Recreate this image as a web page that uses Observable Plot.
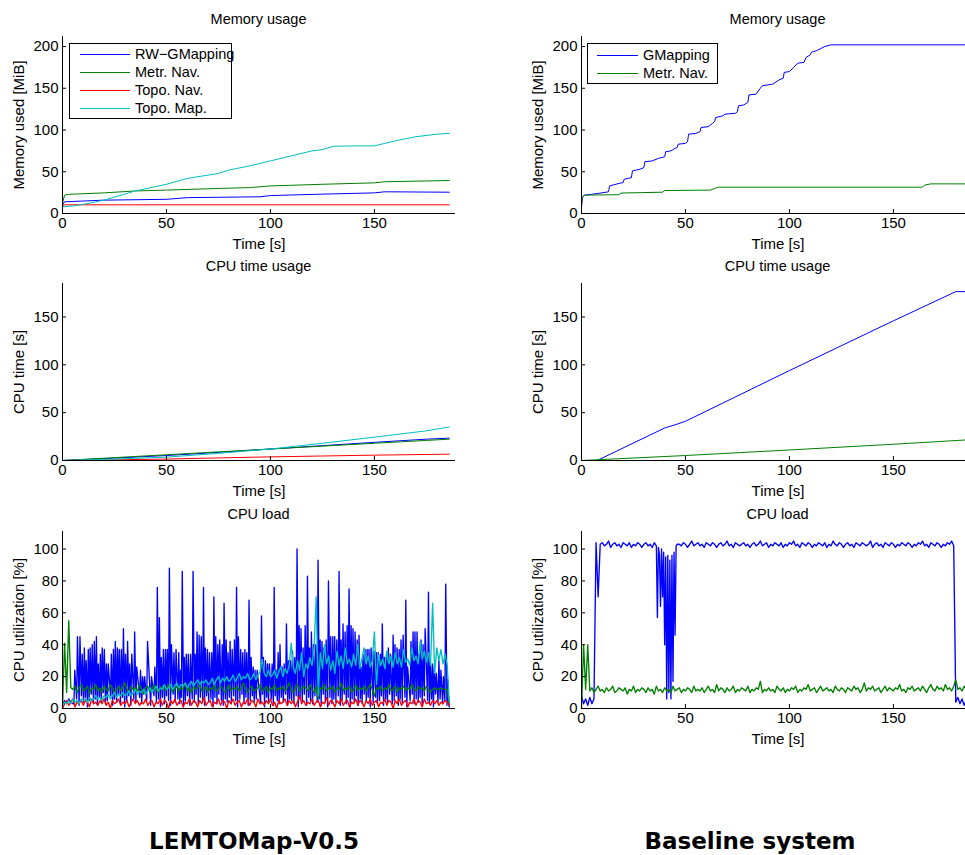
<!DOCTYPE html>
<html><head><meta charset="utf-8">
<script src="https://cdn.jsdelivr.net/npm/d3@7"></script>
<script src="https://cdn.jsdelivr.net/npm/@observablehq/plot@0.6"></script>
<style>
html,body{margin:0;padding:0;background:#fff;}
body{width:965px;height:855px;overflow:hidden;position:relative;font-family:"Liberation Sans",Arial,Helvetica,sans-serif;color:#000;}
.title{position:absolute;font-size:14.5px;line-height:16px;white-space:nowrap;transform:translateX(-50%);}
.caption{position:absolute;font-family:"DejaVu Sans",sans-serif;font-weight:bold;font-size:23px;line-height:26px;white-space:nowrap;transform:translateX(-50%);}
.legend{position:absolute;box-sizing:border-box;border:1px solid #000;background:#fff;overflow:visible;}
.legend .row{position:absolute;height:18px;white-space:nowrap;font-size:14.5px;line-height:18px;}
.legend svg{position:absolute;left:0;top:0;overflow:visible;}
</style></head>
<body>
<script>
// ---------------- shared axes ----------------
const xDomain = [0, 189];
const xTicks = [0, 50, 100, 150];
const memTicks = [0, 50, 100, 150, 200];
const cpuTimeTicks = [0, 50, 100, 150];
const loadTicks = [0, 20, 40, 60, 80, 100];
const memDomain = [0, 212];
const cpuTimeDomain = [0, 185];
const loadDomain = [0, 111];

const panelTitles = ["Memory usage", "CPU time usage", "CPU load"];
const yLabels = ["Memory used [MiB]", "CPU time [s]", "CPU utilization [%]"];
const xLabel = "Time [s]";
const columnCaptions = ["LEMTOMap-V0.5", "Baseline system"];

const leftNames = ["RW\u2212GMapping", "Metr. Nav.", "Topo. Nav.", "Topo. Map."];
const leftColors = ["#0000ff", "#008000", "#ff0000", "#00bfbf"];
const rightNames = ["GMapping", "Metr. Nav."];
const rightColors = ["#0000ff", "#008000"];

// ---------------- memory, LEMTOMap ----------------
const memTimeRW = [0, 1, 20, 50, 60, 95, 100, 122, 150, 155, 186];
const memRW = [10, 14, 16, 17, 19, 20, 21.5, 23, 24.7, 26, 25.5];
const memTimeMetr = [0, 1, 3, 20, 35, 50, 75, 90, 100, 125, 150, 155, 186];
const memMetr = [12, 22, 23, 24.7, 27, 28, 30, 31, 33, 35, 36.7, 38, 39.5];
const memTimeTopoNav = [0, 1, 186];
const memTopoNav = [9, 10.4, 10.4];
const memTimeTopoMap = [0, 5, 10, 20, 35, 50, 60, 75, 80, 90, 100, 110, 120, 125, 130, 140, 150, 155, 160, 170, 180, 186];
const memTopoMap = [8, 9, 11, 16, 27, 35, 42, 48, 52, 57, 63, 69, 75, 76.5, 80.5, 81, 81, 84, 87, 92, 95, 96];

// ---------------- memory, baseline ----------------
const memTimeGMap = [0, 0.5, 1.5, 8, 13, 13.5, 18, 20, 20.5, 24, 24.5, 28, 30, 30.5, 34, 37, 40, 40.5, 43, 45, 46, 46.5, 50, 51, 51.5, 55, 57, 57.5, 61, 63, 64, 64.5, 68, 69, 74, 75, 75.5, 78, 80, 80.5, 84, 86, 87, 92, 95, 97, 97.5, 100, 102, 104, 107, 108, 110, 110.5, 113, 117, 120, 189];
const memGMap = [8, 20, 22, 24, 26, 33, 36, 37, 41, 43, 51, 53, 55, 62, 63, 66, 68, 74, 75, 78, 79, 83, 84, 86, 95, 96, 98, 103, 104, 108, 110, 115, 117, 119, 120, 122, 129, 130, 133, 142, 143, 150, 153, 155, 160, 162, 169, 170, 175, 180, 181, 187, 190, 193, 195, 200, 202, 202];
const memTimeMetrB = [0, 0.5, 1.5, 18, 19, 39, 40, 62, 64, 66, 164, 165, 168, 189];
const memMetrB = [12, 20, 22, 22.5, 24.5, 25.5, 27.5, 28, 30, 31.5, 31.5, 34, 35.5, 35.5];

// ---------------- CPU time ----------------
const cpuTimeT = [0, 25, 50, 75, 100, 125, 150, 175, 186];
const cpuRW = [0, 2.5, 5.2, 8.5, 12, 15.5, 19, 22.3, 23.4];
const cpuMetr = [0, 3, 6, 9, 12, 15, 18, 21, 22.3];
const cpuTopoNav = [0, 0.7, 1.5, 2.7, 3.8, 4.7, 5.6, 6.3, 6.6];
const cpuTopoMap = [0, 1.5, 3.5, 7.5, 12, 18, 24.4, 31, 35];
const cpuTimeGMapT = [0, 7.5, 40, 45, 50, 100, 150, 180, 189];
const cpuGMap = [0, 0, 34, 37.3, 41, 94, 146, 176.5, 176.5];
const cpuTimeMetrBT = [0, 50, 100, 150, 189];
const cpuMetrB = [0, 5.2, 11, 17, 22];

// ---------------- CPU load, LEMTOMap (1 s samples unless timed) ----------------
const rwStartTime = [0, 1, 2, 3, 4, 5];
const rwStartLoad = [2, 5, 3, 6, 4, 3];
const rwSpikeTime = [
5.9, 7.2, 8.4, 9.5, 10.5, 11.4, 12.4, 13.3, 14.3, 15.3,
16.3, 17.2, 18.2, 19.1, 20.1, 21.1, 22.0, 23.5, 24.5, 25.4,
26.4, 27.3, 28.3, 29.3, 30.3, 31.3, 32.3, 33.3, 34.7, 35.7,
37.5, 38.5, 39.5, 40.9, 42.8, 44.4, 45.6, 46.6, 47.5, 48.5,
49.5, 50.4, 51.4, 52.4, 53.6, 54.6, 55.9, 56.8, 57.6, 58.6,
59.5, 60.5, 61.6, 62.8, 63.8, 64.7, 65.7, 66.7, 67.8, 68.7,
69.7, 70.7, 71.8, 72.8, 73.7, 74.7, 75.6, 76.8, 77.7, 78.7,
79.6, 80.6, 81.6, 82.7, 83.7, 84.6, 85.7, 86.7, 87.7, 88.6,
89.7, 90.7, 91.7, 92.6, 93.6, 95.7, 96.6, 97.6, 98.6, 99.5,
100.8, 101.8, 102.7, 103.7, 104.6, 105.6, 106.6, 107.7, 108.7, 109.6,
110.6, 111.7, 112.8, 113.8, 114.7, 115.7, 116.7, 117.8, 118.8, 119.7,
120.7, 121.8, 122.9, 123.9, 124.8, 125.8, 126.8, 127.9, 129.0, 130.0,
130.9, 131.9, 133.0, 134.0, 134.9, 135.9, 136.9, 137.8, 138.8, 139.7,
140.7, 141.7, 142.6, 143.6, 144.5, 145.5, 146.5, 147.4, 148.4, 149.8,
151.0, 151.9, 152.9, 153.8, 154.8, 155.8, 156.7, 157.7, 159.0, 159.9,
160.9, 161.9, 162.8, 163.8, 165.1, 166.0, 167.6, 168.6, 169.5, 170.5,
171.5, 172.4, 173.4, 174.4, 176.0, 176.9, 177.9, 178.8, 179.8, 181.0,
182.0, 183.2, 184.3, 185.3];
const rwSpikePeak = [
24, 45, 45, 34, 38, 30, 37, 38, 40, 42,
45, 28, 34, 38, 37, 28, 28, 34, 37, 42,
38, 37, 37, 50, 34, 42, 28, 34, 48, 26,
24, 20, 20, 42, 20, 26, 76, 57, 32, 37,
37, 37, 88, 40, 35, 37, 35, 24, 86, 32,
34, 34, 34, 86, 34, 48, 46, 45, 76, 38,
37, 35, 35, 70, 45, 40, 43, 40, 66, 43,
35, 42, 37, 43, 76, 45, 37, 35, 37, 35,
68, 32, 26, 24, 24, 58, 32, 30, 28, 28,
28, 76, 24, 35, 40, 26, 28, 53, 30, 30,
36, 32, 100, 52, 50, 38, 52, 83, 38, 48,
40, 40, 93, 43, 42, 38, 43, 80, 45, 45,
45, 43, 86, 43, 53, 48, 52, 75, 52, 50,
48, 43, 46, 26, 34, 37, 37, 37, 38, 36,
35, 35, 34, 53, 32, 34, 38, 34, 46, 40,
38, 37, 43, 46, 68, 26, 42, 48, 48, 48,
34, 43, 40, 50, 73, 30, 28, 26, 22, 30,
24, 20, 78, 18];
const rwSpikeLow = [
3, 6, 2, 8, 4, 7, 1, 5, 9, 3,
6, 2, 7, 4, 10, 3, 5, 8, 2, 6,
4, 9, 3, 7, 1, 5, 8, 2, 6, 4,
7, 3, 9, 5, 2, 8, 4, 6, 1, 7,
3, 8, 5, 2, 9, 4, 6, 3, 7, 1,
5, 8, 2, 6, 4, 9, 3, 7, 5, 2,
8, 4, 6, 1, 7, 3, 9, 5, 2, 6,
4, 7, 3, 8, 5, 1, 6, 9, 3, 7,
2, 5, 8, 4, 6, 3, 9, 1, 7, 4,
6, 2, 8, 5, 3, 7, 4, 9, 2, 6,
5, 3, 8, 1, 6, 4, 9, 2, 7, 5,
3, 8, 4, 6, 2, 9, 5, 1, 7, 3,
6, 4, 8, 2, 5, 9, 3, 7, 1, 6,
4, 8, 2, 6, 3, 9, 5, 7, 1, 4,
7, 3, 5, 8, 2, 6, 4, 9, 3, 5,
8, 2, 6, 4, 7, 1, 5, 9, 3, 6,
4, 7, 2, 8, 5, 3, 6, 1, 9, 4,
6, 3, 5, 2];
const rwEndTime = [185.7, 186];
const rwEndLoad = [4, 1];

const metrLoad = [
0, 41, 10, 55, 13,
12, 14, 10, 13, 15, 11, 12, 14, 9, 13,
12, 15, 11, 13, 10, 14, 12, 11, 15, 13,
10, 12, 14, 11, 13, 16, 12, 10, 14, 12,
13, 11, 15, 12, 9, 13, 14, 11, 12, 15,
12, 10, 13, 14, 11, 12, 15, 13, 10, 12,
14, 11, 13, 12, 16, 11, 13, 10, 14, 12,
13, 15, 11, 12, 14, 10, 13, 12, 15, 11,
12, 14, 13, 10, 12, 15, 11, 13, 12, 14,
11, 13, 16, 12, 10, 13, 14, 11, 12, 13,
15, 11, 12, 14, 10, 13, 12, 15, 11, 13,
12, 14, 11, 13, 16, 12, 10, 13, 15, 11,
12, 14, 13, 11, 15, 12, 10, 14, 6, 13,
12, 15, 11, 13, 12, 14, 10, 13, 12, 16,
11, 13, 12, 14, 10, 12, 15, 11, 13, 12,
14, 11, 13, 15, 12, 8, 13, 12, 14, 11,
13, 12, 15, 11, 12, 14, 10, 13, 12, 14,
11, 13, 12, 15, 12, 11, 14, 12, 13, 11,
14, 12, 10, 12, 13, 12, 12, 13, 12, 12,
12, 3];
const topoNavLoad = [
0, 3, 5, 2, 4, 6, 1, 4, 3, 5,
2, 5, 4, 1, 6, 3, 4, 2, 5, 3,
6, 2, 4, 0, 5, 3, 4, 6, 2, 4,
3, 5, 1, 4, 6, 3, 5, 2, 4, 3,
6, 2, 4, 5, 1, 4, 3, 6, 2, 5,
4, 0, 5, 3, 6, 2, 4, 5, 1, 4,
3, 6, 2, 5, 4, 1, 5, 3, 7, 2,
4, 5, 1, 4, 3, 6, 2, 5, 4, 0,
5, 3, 6, 2, 4, 5, 1, 4, 3, 6,
2, 5, 4, 1, 6, 3, 4, 2, 5, 3,
6, 2, 4, 0, 5, 3, 4, 6, 2, 5,
3, 5, 1, 4, 8, 3, 5, 2, 4, 3,
6, 2, 4, 5, 1, 4, 3, 7, 2, 5,
4, 1, 5, 3, 6, 2, 4, 5, 1, 4,
3, 6, 2, 5, 4, 1, 5, 3, 6, 2,
4, 5, 1, 4, 3, 6, 2, 5, 4, 0,
5, 3, 6, 2, 4, 5, 1, 4, 3, 6,
2, 5, 4, 1, 6, 3, 4, 2, 5, 3,
5, 2, 4, 3, 5, 4, 2];
const topoMapLoad = [
2, 4, 3, 5, 3, 6, 4, 5, 3, 6,
5, 6, 4, 7, 5, 6, 8, 6, 7, 5,
8, 7, 9, 6, 8, 10, 7, 9, 8, 10,
8, 9, 11, 8, 10, 12, 9, 11, 10, 12,
9, 11, 13, 10, 12, 14, 11, 13, 12, 15,
12, 13, 15, 12, 14, 16, 13, 15, 14, 16,
13, 15, 17, 14, 16, 18, 15, 17, 16, 18,
15, 16, 19, 15, 18, 20, 16, 19, 17, 20,
17, 18, 21, 17, 19, 22, 18, 20, 19, 22,
18, 19, 22, 18, 21, 23, 31, 22, 20, 24,
20, 21, 24, 19, 23, 26, 20, 25, 22, 27,
41, 26, 22, 30, 24, 35, 20, 28, 25, 32,
27, 38, 70, 8, 35, 25, 40, 28, 33, 24,
30, 22, 36, 27, 33, 25, 38, 28, 31, 26,
34, 27, 40, 25, 31, 38, 28, 33, 26, 30,
48, 15, 34, 27, 31, 25, 36, 28, 33, 26,
35, 28, 32, 26, 37, 29, 31, 27, 38, 30,
33, 28, 42, 31, 36, 29, 35, 27, 66, 22,
38, 30, 37, 28, 34, 27, 4];

// ---------------- CPU load, baseline ----------------
const gmapLoadA = [
8, 3, 6, 2, 7, 3, 6, 104, 70, 103,
104, 102, 103, 105, 101, 103, 104, 102, 103, 101,
104, 103, 102, 104, 101, 103, 102, 104, 103, 101,
103, 104, 102, 103, 101, 104, 102];
const gmapDipTime = [36.5, 37, 37.5, 38, 38.5, 39, 39.5, 40, 40.5, 41, 41.5, 42, 42.5, 43, 43.5, 44, 44.5, 45, 45.5, 46];
const gmapDipLoad = [57, 101, 96, 64, 100, 70, 98, 40, 95, 6, 96, 10, 93, 6, 96, 17, 98, 46, 102, 103];
const gmapLoadBStart = 47;
const gmapLoadB = [
103, 102, 104, 103, 101, 103, 105, 102, 103, 104,
102, 103, 101, 104, 103, 102, 104, 103, 101, 103,
104, 102, 103, 105, 102, 103, 101, 104, 103, 102,
103, 104, 102, 103, 101, 103, 104, 102, 103, 105,
102, 103, 104, 101, 103, 102, 104, 103, 102, 104,
101, 103, 102, 104, 103, 105, 102, 103, 101, 104,
103, 102, 104, 103, 101, 103, 102, 104, 103, 102,
104, 101, 103, 102, 105, 103, 102, 104, 103, 101,
103, 104, 102, 103, 101, 104, 103, 102, 104, 103,
102, 103, 105, 101, 103, 104, 102, 103, 101, 104,
103, 102, 104, 103, 101, 103, 102, 104, 103, 102,
104, 103, 101, 103, 102, 104, 103, 105, 102, 103,
101, 104, 103, 102, 104, 103, 101, 103, 102, 104,
103, 105, 102,
4, 7, 3, 6, 2, 5, 8, 3, 6, 4];
const metrLoadB = [
0, 40, 12, 40, 11, 13, 10, 12, 14, 11,
12, 10, 13, 11, 12, 14, 10, 11, 13, 12,
11, 13, 9, 12, 11, 14, 10, 12, 11, 13,
12, 10, 13, 11, 12, 9, 14, 11, 12, 10,
13, 11, 12, 10, 14, 11, 12, 13, 10, 12,
11, 13, 12, 10, 14, 11, 12, 11, 13, 10,
12, 14, 11, 12, 10, 15, 11, 13, 12, 10,
13, 11, 12, 14, 10, 12, 11, 13, 12, 11,
14, 10, 12, 11, 13, 12, 17, 10, 12, 11,
13, 11, 12, 10, 14, 12, 11, 13, 10, 12,
11, 13, 12, 14, 10, 12, 11, 13, 12, 15,
11, 12, 13, 10, 12, 14, 11, 12, 13, 11,
12, 10, 14, 12, 11, 13, 12, 10, 13, 12,
11, 14, 12, 13, 10, 12, 16, 11, 13, 12,
14, 11, 12, 13, 10, 12, 14, 11, 13, 12,
11, 13, 12, 15, 11, 12, 10, 13, 12, 14,
11, 12, 13, 11, 14, 12, 10, 13, 15, 12,
11, 14, 12, 13, 11, 15, 12, 13, 11, 14,
18, 12, 13, 11, 14, 12, 13, 12, 14, 12];

// ---------------- helpers ----------------
const pts = (T, V) => T.map((t, i) => ({t, v: V[i]}));
const sampled = (V, t0) => V.map((v, i) => ({t: t0 + i, v}));

const rwLoadData = [
  ...pts(rwStartTime, rwStartLoad),
  ...rwSpikeTime.flatMap((t, i) => [{t: t - 0.4, v: rwSpikeLow[i]}, {t, v: rwSpikePeak[i]}]),
  ...pts(rwEndTime, rwEndLoad)
];
const gmapLoadData = [
  ...sampled(gmapLoadA, 0),
  ...pts(gmapDipTime, gmapDipLoad),
  ...sampled(gmapLoadB, gmapLoadBStart)
];

const FONT = '"Liberation Sans", Arial, Helvetica, sans-serif';
const AXW = 393, AXH = 177, ML = 62, MR = 20, MT = 10, MB = 50;
const colLeft = [0, 519];
const rowAxTop = [36, 283.3, 530.7];
const rowStroke = [1, 1, 1.35];

function makePanel(col, row, yDomain, yTicks, series) {
  const fig = Plot.plot({
    width: ML + AXW + MR, height: MT + AXH + MB,
    marginLeft: ML, marginRight: MR, marginTop: MT, marginBottom: MB,
    style: {fontFamily: FONT, fontSize: "15px", color: "#000", background: "transparent", overflow: "visible"},
    x: {domain: xDomain, ticks: xTicks, tickSize: 0, tickPadding: 4, label: xLabel, labelAnchor: "center", labelOffset: 35, labelArrow: "none"},
    y: {domain: yDomain, ticks: yTicks, tickSize: 0, tickPadding: 4, label: yLabels[row], labelAnchor: "center", labelOffset: 49, labelArrow: "none"},
    marks: [
      ...series.map(s => Plot.line(s.data, {x: "t", y: "v", stroke: s.color, strokeWidth: rowStroke[row]})),
      Plot.tickY(yTicks, {y: d => d, insetRight: AXW - 4, stroke: "#000"}),
      Plot.tickX(xTicks, {x: d => d, insetTop: AXH - 4, stroke: "#000"}),
      Plot.ruleX([xDomain[0]], {stroke: "#000"}),
      Plot.ruleY([yDomain[0]], {stroke: "#000"})
    ]
  });
  fig.style.position = "absolute";
  fig.style.left = colLeft[col] + "px";
  fig.style.top = (rowAxTop[row] - MT) + "px";
  document.body.appendChild(fig);

  const t = document.createElement("div");
  t.className = "title";
  t.textContent = panelTitles[row];
  t.style.left = (colLeft[col] + ML + AXW / 2) + "px";
  t.style.top = (rowAxTop[row] - 25) + "px";
  document.body.appendChild(t);
}

// LEMTOMap column
makePanel(0, 0, memDomain, memTicks, [
  {data: pts(memTimeRW, memRW), color: leftColors[0]},
  {data: pts(memTimeMetr, memMetr), color: leftColors[1]},
  {data: pts(memTimeTopoNav, memTopoNav), color: leftColors[2]},
  {data: pts(memTimeTopoMap, memTopoMap), color: leftColors[3]}
]);
makePanel(0, 1, cpuTimeDomain, cpuTimeTicks, [
  {data: pts(cpuTimeT, cpuRW), color: leftColors[0]},
  {data: pts(cpuTimeT, cpuMetr), color: leftColors[1]},
  {data: pts(cpuTimeT, cpuTopoNav), color: leftColors[2]},
  {data: pts(cpuTimeT, cpuTopoMap), color: leftColors[3]}
]);
makePanel(0, 2, loadDomain, loadTicks, [
  {data: rwLoadData, color: leftColors[0]},
  {data: sampled(metrLoad, 0), color: leftColors[1]},
  {data: sampled(topoNavLoad, 0), color: leftColors[2]},
  {data: sampled(topoMapLoad, 0), color: leftColors[3]}
]);
// Baseline column
makePanel(1, 0, memDomain, memTicks, [
  {data: pts(memTimeGMap, memGMap), color: rightColors[0]},
  {data: pts(memTimeMetrB, memMetrB), color: rightColors[1]}
]);
makePanel(1, 1, cpuTimeDomain, cpuTimeTicks, [
  {data: pts(cpuTimeGMapT, cpuGMap), color: rightColors[0]},
  {data: pts(cpuTimeMetrBT, cpuMetrB), color: rightColors[1]}
]);
makePanel(1, 2, loadDomain, loadTicks, [
  {data: gmapLoadData, color: rightColors[0]},
  {data: sampled(metrLoadB, 0), color: rightColors[1]}
]);

// legends
const SVGNS = "http://www.w3.org/2000/svg";
function makeLegend(box, names, colors, firstRow, lineX0, lineX1, textX) {
  const div = document.createElement("div");
  div.className = "legend";
  Object.assign(div.style, {left: box[0] + "px", top: box[1] + "px", width: box[2] + "px", height: box[3] + "px"});
  const svg = document.createElementNS(SVGNS, "svg");
  svg.setAttribute("width", box[2]);
  svg.setAttribute("height", box[3]);
  div.appendChild(svg);
  names.forEach((n, i) => {
    const cy = firstRow + i * 18 - 0.5;
    const ln = document.createElementNS(SVGNS, "line");
    ln.setAttribute("x1", lineX0); ln.setAttribute("x2", lineX1);
    ln.setAttribute("y1", cy); ln.setAttribute("y2", cy);
    ln.setAttribute("stroke", colors[i]);
    ln.setAttribute("stroke-width", 1);
    svg.appendChild(ln);
    const tx = document.createElement("div");
    tx.className = "row";
    Object.assign(tx.style, {left: textX + "px", top: (firstRow + i * 18 - 10) + "px"});
    tx.textContent = n;
    div.appendChild(tx);
  });
  document.body.appendChild(div);
}
makeLegend([69, 43, 163, 76], leftNames, leftColors, 11, 10, 60, 65);
makeLegend([587, 43, 131, 41], rightNames, rightColors, 12, 9, 50, 55);

// column captions
[254, 750].forEach((cx, i) => {
  const c = document.createElement("div");
  c.className = "caption";
  c.textContent = columnCaptions[i];
  c.style.left = cx + "px";
  c.style.top = "828px";
  document.body.appendChild(c);
});
</script>
</body></html>
